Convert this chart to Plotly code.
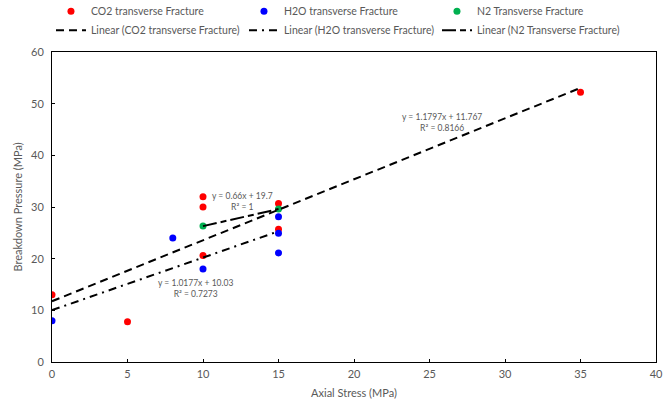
import numpy as np
import plotly.graph_objects as go

# Data
co2_x = [0, 5, 10, 10, 10, 15, 15, 35]
co2_y = [13.0, 7.8, 20.6, 30.0, 32.0, 30.7, 25.7, 52.2]
h2o_x = [0, 8, 10, 15, 15, 15]
h2o_y = [8.0, 24.0, 18.0, 28.1, 24.9, 21.1]
n2_x = [10, 15]
n2_y = [26.3, 29.6]

# Excel trendline coefficients (slope, intercept, R²)
co2_fit = (1.1797, 11.767, 0.8166)
h2o_fit = (1.0177, 10.03, 0.7273)
n2_fit = (0.66, 19.7, 1)

FONT = "Lato"
GREY = "#595959"

fig = go.Figure()

def scatter(x, y, name, color):
    fig.add_trace(go.Scatter(x=x, y=y, mode="markers", name=name,
                             marker=dict(color=color, size=7)))

scatter(co2_x, co2_y, "CO2 transverse Fracture", "#ff0000")
scatter(h2o_x, h2o_y, "H2O transverse Fracture", "#0000ff")
scatter(n2_x, n2_y, "N2 Transverse Fracture", "#00b050")

def trend(xs, fit, name, dash):
    xx = np.array([min(xs), max(xs)], dtype=float)
    yy = fit[0] * xx + fit[1]
    fig.add_trace(go.Scatter(x=xx, y=yy, mode="lines", name=name,
                             line=dict(color="black", width=2, dash=dash)))

trend(co2_x, co2_fit, "Linear (CO2 transverse Fracture)", "8px,5px")
trend(h2o_x, h2o_fit, "Linear (H2O transverse Fracture)", "8px,5px,2px,5px")
trend(n2_x, n2_fit, "Linear (N2 Transverse Fracture)", "14px,4px,6px,4px")

def eq_text(fit):
    return f"y = {fit[0]}x + {fit[1]}<br>R² = {fit[2]}"

ann_font = dict(family=FONT, size=8.5, color=GREY)
fig.add_annotation(x=25.8, y=46.4, text=eq_text(co2_fit), showarrow=False, font=ann_font)
fig.add_annotation(x=12.63, y=31.1, text=eq_text(n2_fit), showarrow=False, font=ann_font)
fig.add_annotation(x=9.47, y=14.3, text=eq_text(h2o_fit), showarrow=False, font=ann_font)

axis_common = dict(showline=True, linecolor="black", linewidth=1, mirror=True,
                   ticks="inside", ticklen=3, tickcolor="black", showgrid=False,
                   zeroline=False, tickfont=dict(family=FONT, size=11, color=GREY))

fig.update_xaxes(range=[0, 40], dtick=5, ticklabelstandoff=2,
                 title=dict(text="Axial Stress (MPa)",
                            font=dict(family=FONT, size=11, color=GREY), standoff=10),
                 **axis_common)
fig.update_yaxes(range=[0, 60], dtick=10, ticklabelstandoff=5,
                 title=dict(text="Breakdown Pressure (MPa)",
                            font=dict(family=FONT, size=11, color=GREY), standoff=6),
                 **axis_common)

fig.update_layout(
    width=672, height=404,
    margin=dict(l=52, r=16, t=52, b=42, autoexpand=False),
    plot_bgcolor="white", paper_bgcolor="white",
    showlegend=True,
    legend=dict(orientation="h", x=-0.0017, y=1.178, xanchor="left", yanchor="top",
                entrywidth=148, entrywidthmode="pixels",
                font=dict(family=FONT, size=10.5, color=GREY),
                bgcolor="rgba(0,0,0,0)", tracegroupgap=0),
    font=dict(family=FONT),
)

fig.write_html("out.html")
